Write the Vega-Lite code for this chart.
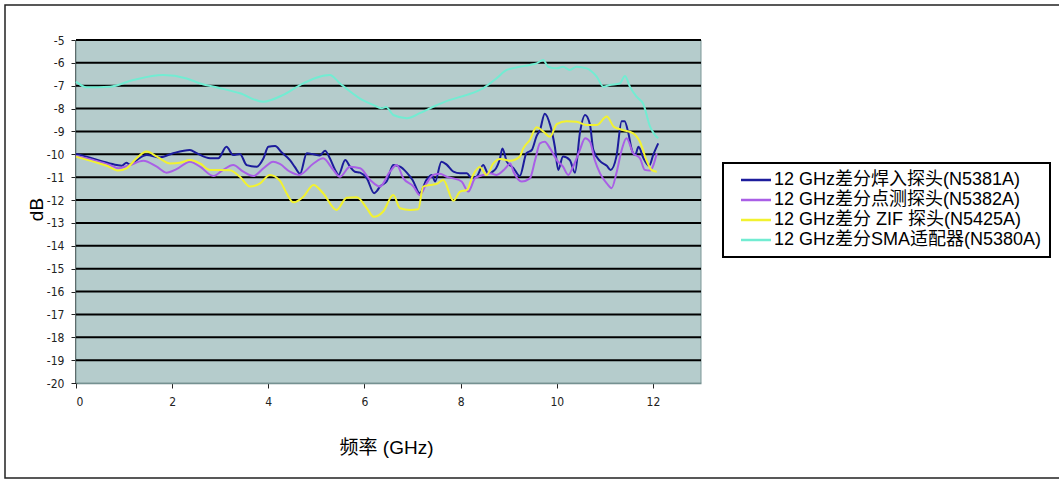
{
  "$schema": "https://vega.github.io/schema/vega-lite/v6.json",
  "width": 1058,
  "height": 473,
  "autosize": {"type": "none"},
  "padding": {"left": 5, "top": 5, "right": 0, "bottom": 2},
  "background": "white",
  "config": {
    "view": {"stroke": "#222222", "strokeWidth": 1.5},
    "axis": {
      "labelFont": "DejaVu Sans Condensed, Liberation Sans Narrow, sans-serif",
      "labelFontSize": 12,
      "labelColor": "#222222",
      "labelOverlap": false,
      "labelExpr": "datum.value + ''",
      "titleFont": "Liberation Sans, Noto Sans CJK SC, sans-serif",
      "titleFontWeight": "normal",
      "titleColor": "#000000",
      "titleFontSize": 19,
      "tickColor": "#222222",
      "tickSize": 5,
      "grid": false
    },
    "axisX": {"offset": -95, "domainColor": "#6f8a8a", "domainWidth": 1.5,
      "labelPadding": 8, "titleX": 381, "titleY": 64, "titleBaseline": "middle"},
    "axisY": {"offset": -71, "domainColor": "#000000", "domainWidth": 2.5, "labelPadding": 7,
      "titleX": -40, "titleY": 204, "titleBaseline": "middle"}
  },
  "datasets": {
    "grid": [
      {"g": -5}, {"g": -6}, {"g": -7}, {"g": -8}, {"g": -9}, {"g": -10}, {"g": -11}, {"g": -12},
      {"g": -13}, {"g": -14}, {"g": -15}, {"g": -16}, {"g": -17}, {"g": -18}, {"g": -19}
    ],
    "curves": [
      {"s": "12 GHz差分焊入探头(N5381A)", "f": 0, "v": -9.98},
      {"s": "12 GHz差分焊入探头(N5381A)", "f": 0.22, "v": -10.1},
      {"s": "12 GHz差分焊入探头(N5381A)", "f": 0.57, "v": -10.32},
      {"s": "12 GHz差分焊入探头(N5381A)", "f": 0.85, "v": -10.47},
      {"s": "12 GHz差分焊入探头(N5381A)", "f": 0.95, "v": -10.5},
      {"s": "12 GHz差分焊入探头(N5381A)", "f": 1.05, "v": -10.37},
      {"s": "12 GHz差分焊入探头(N5381A)", "f": 1.12, "v": -10.45},
      {"s": "12 GHz差分焊入探头(N5381A)", "f": 1.26, "v": -10.25},
      {"s": "12 GHz差分焊入探头(N5381A)", "f": 1.47, "v": -10.03},
      {"s": "12 GHz差分焊入探头(N5381A)", "f": 1.75, "v": -10.13},
      {"s": "12 GHz差分焊入探头(N5381A)", "f": 2.02, "v": -9.95},
      {"s": "12 GHz差分焊入探头(N5381A)", "f": 2.37, "v": -9.81},
      {"s": "12 GHz差分焊入探头(N5381A)", "f": 2.51, "v": -9.95},
      {"s": "12 GHz差分焊入探头(N5381A)", "f": 2.79, "v": -10.17},
      {"s": "12 GHz差分焊入探头(N5381A)", "f": 2.96, "v": -10.17},
      {"s": "12 GHz差分焊入探头(N5381A)", "f": 3.13, "v": -9.67},
      {"s": "12 GHz差分焊入探头(N5381A)", "f": 3.27, "v": -10.03},
      {"s": "12 GHz差分焊入探头(N5381A)", "f": 3.41, "v": -9.98},
      {"s": "12 GHz差分焊入探头(N5381A)", "f": 3.55, "v": -10.47},
      {"s": "12 GHz差分焊入探头(N5381A)", "f": 3.76, "v": -10.54},
      {"s": "12 GHz差分焊入探头(N5381A)", "f": 3.9, "v": -10.17},
      {"s": "12 GHz差分焊入探头(N5381A)", "f": 4.0, "v": -9.67},
      {"s": "12 GHz差分焊入探头(N5381A)", "f": 4.14, "v": -9.64},
      {"s": "12 GHz差分焊入探头(N5381A)", "f": 4.28, "v": -9.92},
      {"s": "12 GHz差分焊入探头(N5381A)", "f": 4.45, "v": -10.25},
      {"s": "12 GHz差分焊入探头(N5381A)", "f": 4.55, "v": -10.55},
      {"s": "12 GHz差分焊入探头(N5381A)", "f": 4.66, "v": -10.85},
      {"s": "12 GHz差分焊入探头(N5381A)", "f": 4.8, "v": -9.95},
      {"s": "12 GHz差分焊入探头(N5381A)", "f": 4.94, "v": -10.0},
      {"s": "12 GHz差分焊入探头(N5381A)", "f": 5.07, "v": -10.05},
      {"s": "12 GHz差分焊入探头(N5381A)", "f": 5.18, "v": -9.84},
      {"s": "12 GHz差分焊入探头(N5381A)", "f": 5.28, "v": -10.17},
      {"s": "12 GHz差分焊入探头(N5381A)", "f": 5.39, "v": -10.68},
      {"s": "12 GHz差分焊入探头(N5381A)", "f": 5.46, "v": -10.9},
      {"s": "12 GHz差分焊入探头(N5381A)", "f": 5.6, "v": -10.25},
      {"s": "12 GHz差分焊入探头(N5381A)", "f": 5.7, "v": -10.54},
      {"s": "12 GHz差分焊入探头(N5381A)", "f": 5.8, "v": -10.76},
      {"s": "12 GHz差分焊入探头(N5381A)", "f": 5.91, "v": -10.8},
      {"s": "12 GHz差分焊入探头(N5381A)", "f": 6.05, "v": -11.05},
      {"s": "12 GHz差分焊入探头(N5381A)", "f": 6.2, "v": -11.7},
      {"s": "12 GHz差分焊入探头(N5381A)", "f": 6.26, "v": -11.6},
      {"s": "12 GHz差分焊入探头(N5381A)", "f": 6.32, "v": -11.41},
      {"s": "12 GHz差分焊入探头(N5381A)", "f": 6.46, "v": -11.19},
      {"s": "12 GHz差分焊入探头(N5381A)", "f": 6.6, "v": -10.47},
      {"s": "12 GHz差分焊入探头(N5381A)", "f": 6.74, "v": -10.54},
      {"s": "12 GHz差分焊入探头(N5381A)", "f": 6.88, "v": -10.8},
      {"s": "12 GHz差分焊入探头(N5381A)", "f": 7.0, "v": -11.12},
      {"s": "12 GHz差分焊入探头(N5381A)", "f": 7.15, "v": -11.7},
      {"s": "12 GHz差分焊入探头(N5381A)", "f": 7.29, "v": -11.12},
      {"s": "12 GHz差分焊入探头(N5381A)", "f": 7.4, "v": -10.9},
      {"s": "12 GHz差分焊入探头(N5381A)", "f": 7.47, "v": -11.19},
      {"s": "12 GHz差分焊入探头(N5381A)", "f": 7.6, "v": -10.32},
      {"s": "12 GHz差分焊入探头(N5381A)", "f": 7.71, "v": -10.45},
      {"s": "12 GHz差分焊入探头(N5381A)", "f": 7.85, "v": -10.76},
      {"s": "12 GHz差分焊入探头(N5381A)", "f": 7.99, "v": -10.83},
      {"s": "12 GHz差分焊入探头(N5381A)", "f": 8.13, "v": -10.83},
      {"s": "12 GHz差分焊入探头(N5381A)", "f": 8.23, "v": -11.05},
      {"s": "12 GHz差分焊入探头(N5381A)", "f": 8.33, "v": -10.98},
      {"s": "12 GHz差分焊入探头(N5381A)", "f": 8.47, "v": -10.47},
      {"s": "12 GHz差分焊入探头(N5381A)", "f": 8.57, "v": -10.83},
      {"s": "12 GHz差分焊入探头(N5381A)", "f": 8.71, "v": -10.68},
      {"s": "12 GHz差分焊入探头(N5381A)", "f": 8.82, "v": -10.17},
      {"s": "12 GHz差分焊入探头(N5381A)", "f": 8.87, "v": -9.74},
      {"s": "12 GHz差分焊入探头(N5381A)", "f": 8.96, "v": -10.32},
      {"s": "12 GHz差分焊入探头(N5381A)", "f": 9.1, "v": -10.6},
      {"s": "12 GHz差分焊入探头(N5381A)", "f": 9.23, "v": -10.95},
      {"s": "12 GHz差分焊入探头(N5381A)", "f": 9.37, "v": -9.95},
      {"s": "12 GHz差分焊入探头(N5381A)", "f": 9.48, "v": -9.81},
      {"s": "12 GHz差分焊入探头(N5381A)", "f": 9.58, "v": -9.2},
      {"s": "12 GHz差分焊入探头(N5381A)", "f": 9.65, "v": -8.94},
      {"s": "12 GHz差分焊入探头(N5381A)", "f": 9.75, "v": -8.22},
      {"s": "12 GHz差分焊入探头(N5381A)", "f": 9.86, "v": -8.7},
      {"s": "12 GHz差分焊入探头(N5381A)", "f": 9.96, "v": -9.67},
      {"s": "12 GHz差分焊入探头(N5381A)", "f": 10.03, "v": -10.68},
      {"s": "12 GHz差分焊入探头(N5381A)", "f": 10.13, "v": -10.1},
      {"s": "12 GHz差分焊入探头(N5381A)", "f": 10.27, "v": -10.25},
      {"s": "12 GHz差分焊入探头(N5381A)", "f": 10.38, "v": -10.8},
      {"s": "12 GHz差分焊入探头(N5381A)", "f": 10.48, "v": -9.08},
      {"s": "12 GHz差分焊入探头(N5381A)", "f": 10.59, "v": -8.28},
      {"s": "12 GHz差分焊入探头(N5381A)", "f": 10.69, "v": -8.7},
      {"s": "12 GHz差分焊入探头(N5381A)", "f": 10.76, "v": -9.8},
      {"s": "12 GHz差分焊入探头(N5381A)", "f": 10.9, "v": -10.3},
      {"s": "12 GHz差分焊入探头(N5381A)", "f": 11.04, "v": -10.5},
      {"s": "12 GHz差分焊入探头(N5381A)", "f": 11.12, "v": -10.68},
      {"s": "12 GHz差分焊入探头(N5381A)", "f": 11.24, "v": -10.1},
      {"s": "12 GHz差分焊入探头(N5381A)", "f": 11.35, "v": -8.55},
      {"s": "12 GHz差分焊入探头(N5381A)", "f": 11.41, "v": -8.55},
      {"s": "12 GHz差分焊入探头(N5381A)", "f": 11.49, "v": -9.08},
      {"s": "12 GHz差分焊入探头(N5381A)", "f": 11.56, "v": -9.8},
      {"s": "12 GHz差分焊入探头(N5381A)", "f": 11.63, "v": -10.03},
      {"s": "12 GHz差分焊入探头(N5381A)", "f": 11.7, "v": -9.67},
      {"s": "12 GHz差分焊入探头(N5381A)", "f": 11.8, "v": -10.15},
      {"s": "12 GHz差分焊入探头(N5381A)", "f": 11.92, "v": -10.5},
      {"s": "12 GHz差分焊入探头(N5381A)", "f": 12.01, "v": -10.0},
      {"s": "12 GHz差分焊入探头(N5381A)", "f": 12.11, "v": -9.52},

      {"s": "12 GHz差分点测探头(N5382A)", "f": 0, "v": -10.07},
      {"s": "12 GHz差分点测探头(N5382A)", "f": 0.36, "v": -10.25},
      {"s": "12 GHz差分点测探头(N5382A)", "f": 0.71, "v": -10.47},
      {"s": "12 GHz差分点测探头(N5382A)", "f": 0.88, "v": -10.61},
      {"s": "12 GHz差分点测探头(N5382A)", "f": 1.12, "v": -10.47},
      {"s": "12 GHz差分点测探头(N5382A)", "f": 1.4, "v": -10.28},
      {"s": "12 GHz差分点测探头(N5382A)", "f": 1.68, "v": -10.54},
      {"s": "12 GHz差分点测探头(N5382A)", "f": 1.88, "v": -10.8},
      {"s": "12 GHz差分点测探头(N5382A)", "f": 2.09, "v": -10.65},
      {"s": "12 GHz差分点测探头(N5382A)", "f": 2.37, "v": -10.32},
      {"s": "12 GHz差分点测探头(N5382A)", "f": 2.58, "v": -10.54},
      {"s": "12 GHz差分点测探头(N5382A)", "f": 2.86, "v": -10.95},
      {"s": "12 GHz差分点测探头(N5382A)", "f": 3.06, "v": -10.68},
      {"s": "12 GHz差分点测探头(N5382A)", "f": 3.27, "v": -10.47},
      {"s": "12 GHz差分点测探头(N5382A)", "f": 3.48, "v": -10.76},
      {"s": "12 GHz差分点测探头(N5382A)", "f": 3.69, "v": -10.95},
      {"s": "12 GHz差分点测探头(N5382A)", "f": 3.9, "v": -10.61},
      {"s": "12 GHz差分点测探头(N5382A)", "f": 4.1, "v": -10.32},
      {"s": "12 GHz差分点测探头(N5382A)", "f": 4.24, "v": -10.42},
      {"s": "12 GHz差分点测探头(N5382A)", "f": 4.45, "v": -10.76},
      {"s": "12 GHz差分点测探头(N5382A)", "f": 4.64, "v": -10.9},
      {"s": "12 GHz差分点测探头(N5382A)", "f": 4.94, "v": -10.4},
      {"s": "12 GHz差分点测探头(N5382A)", "f": 5.14, "v": -10.17},
      {"s": "12 GHz差分点测探头(N5382A)", "f": 5.35, "v": -10.68},
      {"s": "12 GHz差分点测探头(N5382A)", "f": 5.49, "v": -10.98},
      {"s": "12 GHz差分点测探头(N5382A)", "f": 5.7, "v": -10.54},
      {"s": "12 GHz差分点测探头(N5382A)", "f": 5.91, "v": -10.61},
      {"s": "12 GHz差分点测探头(N5382A)", "f": 6.12, "v": -11.12},
      {"s": "12 GHz差分点测探头(N5382A)", "f": 6.32, "v": -11.41},
      {"s": "12 GHz差分点测探头(N5382A)", "f": 6.53, "v": -10.76},
      {"s": "12 GHz差分点测探头(N5382A)", "f": 6.67, "v": -10.47},
      {"s": "12 GHz差分点测探头(N5382A)", "f": 6.81, "v": -11.05},
      {"s": "12 GHz差分点测探头(N5382A)", "f": 7.02, "v": -11.41},
      {"s": "12 GHz差分点测探头(N5382A)", "f": 7.15, "v": -11.78},
      {"s": "12 GHz差分点测探头(N5382A)", "f": 7.29, "v": -11.27},
      {"s": "12 GHz差分点测探头(N5382A)", "f": 7.43, "v": -10.9},
      {"s": "12 GHz差分点测探头(N5382A)", "f": 7.57, "v": -10.85},
      {"s": "12 GHz差分点测探头(N5382A)", "f": 7.71, "v": -10.98},
      {"s": "12 GHz差分点测探头(N5382A)", "f": 7.85, "v": -11.05},
      {"s": "12 GHz差分点测探头(N5382A)", "f": 8.02, "v": -11.19},
      {"s": "12 GHz差分点测探头(N5382A)", "f": 8.16, "v": -11.63},
      {"s": "12 GHz差分点测探头(N5382A)", "f": 8.3, "v": -11.05},
      {"s": "12 GHz差分点测探头(N5382A)", "f": 8.47, "v": -10.9},
      {"s": "12 GHz差分点测探头(N5382A)", "f": 8.61, "v": -10.83},
      {"s": "12 GHz差分点测探头(N5382A)", "f": 8.75, "v": -10.9},
      {"s": "12 GHz差分点测探头(N5382A)", "f": 8.89, "v": -10.7},
      {"s": "12 GHz差分点测探头(N5382A)", "f": 8.96, "v": -10.54},
      {"s": "12 GHz差分点测探头(N5382A)", "f": 9.03, "v": -10.4},
      {"s": "12 GHz差分点测探头(N5382A)", "f": 9.1, "v": -10.76},
      {"s": "12 GHz差分点测探头(N5382A)", "f": 9.27, "v": -11.19},
      {"s": "12 GHz差分点测探头(N5382A)", "f": 9.44, "v": -11.05},
      {"s": "12 GHz差分点测探头(N5382A)", "f": 9.55, "v": -10.25},
      {"s": "12 GHz差分点测探头(N5382A)", "f": 9.65, "v": -9.52},
      {"s": "12 GHz差分点测探头(N5382A)", "f": 9.75, "v": -9.45},
      {"s": "12 GHz差分点测探头(N5382A)", "f": 9.86, "v": -9.74},
      {"s": "12 GHz差分点测探头(N5382A)", "f": 10.0, "v": -10.25},
      {"s": "12 GHz差分点测探头(N5382A)", "f": 10.13, "v": -10.54},
      {"s": "12 GHz差分点测探头(N5382A)", "f": 10.24, "v": -10.9},
      {"s": "12 GHz差分点测探头(N5382A)", "f": 10.34, "v": -10.54},
      {"s": "12 GHz差分点测探头(N5382A)", "f": 10.48, "v": -9.81},
      {"s": "12 GHz差分点测探头(N5382A)", "f": 10.59, "v": -9.3},
      {"s": "12 GHz差分点测探头(N5382A)", "f": 10.69, "v": -9.45},
      {"s": "12 GHz差分点测探头(N5382A)", "f": 10.79, "v": -10.25},
      {"s": "12 GHz差分点测探头(N5382A)", "f": 10.9, "v": -10.83},
      {"s": "12 GHz差分点测探头(N5382A)", "f": 11.04, "v": -11.27},
      {"s": "12 GHz差分点测探头(N5382A)", "f": 11.14, "v": -11.48},
      {"s": "12 GHz差分点测探头(N5382A)", "f": 11.24, "v": -10.83},
      {"s": "12 GHz差分点测探头(N5382A)", "f": 11.35, "v": -9.81},
      {"s": "12 GHz差分点测探头(N5382A)", "f": 11.45, "v": -9.3},
      {"s": "12 GHz差分点测探头(N5382A)", "f": 11.59, "v": -9.95},
      {"s": "12 GHz差分点测探头(N5382A)", "f": 11.73, "v": -10.17},
      {"s": "12 GHz差分点测探头(N5382A)", "f": 11.83, "v": -10.68},
      {"s": "12 GHz差分点测探头(N5382A)", "f": 11.94, "v": -10.71},
      {"s": "12 GHz差分点测探头(N5382A)", "f": 12.01, "v": -10.47},
      {"s": "12 GHz差分点测探头(N5382A)", "f": 12.08, "v": -9.95},

      {"s": "12 GHz差分 ZIF 探头(N5425A)", "f": 0, "v": -10.1},
      {"s": "12 GHz差分 ZIF 探头(N5425A)", "f": 0.36, "v": -10.32},
      {"s": "12 GHz差分 ZIF 探头(N5425A)", "f": 0.64, "v": -10.5},
      {"s": "12 GHz差分 ZIF 探头(N5425A)", "f": 0.88, "v": -10.71},
      {"s": "12 GHz差分 ZIF 探头(N5425A)", "f": 1.05, "v": -10.61},
      {"s": "12 GHz差分 ZIF 探头(N5425A)", "f": 1.26, "v": -10.17},
      {"s": "12 GHz差分 ZIF 探头(N5425A)", "f": 1.47, "v": -9.88},
      {"s": "12 GHz差分 ZIF 探头(N5425A)", "f": 1.68, "v": -10.1},
      {"s": "12 GHz差分 ZIF 探头(N5425A)", "f": 1.96, "v": -10.4},
      {"s": "12 GHz差分 ZIF 探头(N5425A)", "f": 2.16, "v": -10.37},
      {"s": "12 GHz差分 ZIF 探头(N5425A)", "f": 2.37, "v": -10.25},
      {"s": "12 GHz差分 ZIF 探头(N5425A)", "f": 2.58, "v": -10.4},
      {"s": "12 GHz差分 ZIF 探头(N5425A)", "f": 2.79, "v": -10.68},
      {"s": "12 GHz差分 ZIF 探头(N5425A)", "f": 2.99, "v": -10.68},
      {"s": "12 GHz差分 ZIF 探头(N5425A)", "f": 3.2, "v": -10.7},
      {"s": "12 GHz差分 ZIF 探头(N5425A)", "f": 3.41, "v": -10.98},
      {"s": "12 GHz差分 ZIF 探头(N5425A)", "f": 3.62, "v": -11.41},
      {"s": "12 GHz差分 ZIF 探头(N5425A)", "f": 3.83, "v": -11.27},
      {"s": "12 GHz差分 ZIF 探头(N5425A)", "f": 4.03, "v": -10.9},
      {"s": "12 GHz差分 ZIF 探头(N5425A)", "f": 4.24, "v": -11.15},
      {"s": "12 GHz差分 ZIF 探头(N5425A)", "f": 4.38, "v": -11.7},
      {"s": "12 GHz差分 ZIF 探头(N5425A)", "f": 4.52, "v": -12.1},
      {"s": "12 GHz差分 ZIF 探头(N5425A)", "f": 4.73, "v": -11.85},
      {"s": "12 GHz差分 ZIF 探头(N5425A)", "f": 4.94, "v": -11.34},
      {"s": "12 GHz差分 ZIF 探头(N5425A)", "f": 5.14, "v": -11.7},
      {"s": "12 GHz差分 ZIF 探头(N5425A)", "f": 5.42, "v": -12.43},
      {"s": "12 GHz差分 ZIF 探头(N5425A)", "f": 5.63, "v": -11.9},
      {"s": "12 GHz差分 ZIF 探头(N5425A)", "f": 5.84, "v": -11.88},
      {"s": "12 GHz差分 ZIF 探头(N5425A)", "f": 6.05, "v": -12.36},
      {"s": "12 GHz差分 ZIF 探头(N5425A)", "f": 6.19, "v": -12.73},
      {"s": "12 GHz差分 ZIF 探头(N5425A)", "f": 6.39, "v": -12.5},
      {"s": "12 GHz差分 ZIF 探头(N5425A)", "f": 6.6, "v": -11.78},
      {"s": "12 GHz差分 ZIF 探头(N5425A)", "f": 6.74, "v": -12.36},
      {"s": "12 GHz差分 ZIF 探头(N5425A)", "f": 6.95, "v": -12.43},
      {"s": "12 GHz差分 ZIF 探头(N5425A)", "f": 7.12, "v": -12.4},
      {"s": "12 GHz差分 ZIF 探头(N5425A)", "f": 7.22, "v": -11.41},
      {"s": "12 GHz差分 ZIF 探头(N5425A)", "f": 7.36, "v": -11.34},
      {"s": "12 GHz差分 ZIF 探头(N5425A)", "f": 7.5, "v": -11.3},
      {"s": "12 GHz差分 ZIF 探头(N5425A)", "f": 7.64, "v": -11.12},
      {"s": "12 GHz差分 ZIF 探头(N5425A)", "f": 7.85, "v": -12.03},
      {"s": "12 GHz差分 ZIF 探头(N5425A)", "f": 7.99, "v": -11.63},
      {"s": "12 GHz差分 ZIF 探头(N5425A)", "f": 8.13, "v": -11.56},
      {"s": "12 GHz差分 ZIF 探头(N5425A)", "f": 8.26, "v": -10.9},
      {"s": "12 GHz差分 ZIF 探头(N5425A)", "f": 8.4, "v": -10.55},
      {"s": "12 GHz差分 ZIF 探头(N5425A)", "f": 8.54, "v": -10.9},
      {"s": "12 GHz差分 ZIF 探头(N5425A)", "f": 8.68, "v": -10.4},
      {"s": "12 GHz差分 ZIF 探头(N5425A)", "f": 8.82, "v": -10.2},
      {"s": "12 GHz差分 ZIF 探头(N5425A)", "f": 9.03, "v": -10.28},
      {"s": "12 GHz差分 ZIF 探头(N5425A)", "f": 9.23, "v": -10.1},
      {"s": "12 GHz差分 ZIF 探头(N5425A)", "f": 9.3, "v": -9.75},
      {"s": "12 GHz差分 ZIF 探头(N5425A)", "f": 9.44, "v": -9.37},
      {"s": "12 GHz差分 ZIF 探头(N5425A)", "f": 9.58, "v": -8.82},
      {"s": "12 GHz差分 ZIF 探头(N5425A)", "f": 9.72, "v": -9.0},
      {"s": "12 GHz差分 ZIF 探头(N5425A)", "f": 9.86, "v": -9.23},
      {"s": "12 GHz差分 ZIF 探头(N5425A)", "f": 10.0, "v": -8.68},
      {"s": "12 GHz差分 ZIF 探头(N5425A)", "f": 10.2, "v": -8.55},
      {"s": "12 GHz差分 ZIF 探头(N5425A)", "f": 10.41, "v": -8.57},
      {"s": "12 GHz差分 ZIF 探头(N5425A)", "f": 10.62, "v": -8.72},
      {"s": "12 GHz差分 ZIF 探头(N5425A)", "f": 10.83, "v": -8.72},
      {"s": "12 GHz差分 ZIF 探头(N5425A)", "f": 11.04, "v": -8.35},
      {"s": "12 GHz差分 ZIF 探头(N5425A)", "f": 11.19, "v": -8.8},
      {"s": "12 GHz差分 ZIF 探头(N5425A)", "f": 11.38, "v": -8.94},
      {"s": "12 GHz差分 ZIF 探头(N5425A)", "f": 11.59, "v": -9.08},
      {"s": "12 GHz差分 ZIF 探头(N5425A)", "f": 11.73, "v": -9.45},
      {"s": "12 GHz差分 ZIF 探头(N5425A)", "f": 11.87, "v": -10.28},
      {"s": "12 GHz差分 ZIF 探头(N5425A)", "f": 11.97, "v": -10.68},
      {"s": "12 GHz差分 ZIF 探头(N5425A)", "f": 12.08, "v": -10.76},

      {"s": "12 GHz差分SMA适配器(N5380A)", "f": 0, "v": -6.82},
      {"s": "12 GHz差分SMA适配器(N5380A)", "f": 0.22, "v": -7.07},
      {"s": "12 GHz差分SMA适配器(N5380A)", "f": 0.71, "v": -7.04},
      {"s": "12 GHz差分SMA适配器(N5380A)", "f": 1.19, "v": -6.75},
      {"s": "12 GHz差分SMA适配器(N5380A)", "f": 1.81, "v": -6.53},
      {"s": "12 GHz差分SMA适配器(N5380A)", "f": 2.3, "v": -6.68},
      {"s": "12 GHz差分SMA适配器(N5380A)", "f": 2.58, "v": -6.9},
      {"s": "12 GHz差分SMA适配器(N5380A)", "f": 2.92, "v": -7.07},
      {"s": "12 GHz差分SMA适配器(N5380A)", "f": 3.41, "v": -7.33},
      {"s": "12 GHz差分SMA适配器(N5380A)", "f": 3.89, "v": -7.7},
      {"s": "12 GHz差分SMA适配器(N5380A)", "f": 4.31, "v": -7.4},
      {"s": "12 GHz差分SMA适配器(N5380A)", "f": 4.66, "v": -6.97},
      {"s": "12 GHz差分SMA适配器(N5380A)", "f": 5.28, "v": -6.53},
      {"s": "12 GHz差分SMA适配器(N5380A)", "f": 5.49, "v": -6.9},
      {"s": "12 GHz差分SMA适配器(N5380A)", "f": 5.9, "v": -7.55},
      {"s": "12 GHz差分SMA适配器(N5380A)", "f": 6.18, "v": -7.84},
      {"s": "12 GHz差分SMA适配器(N5380A)", "f": 6.36, "v": -7.99},
      {"s": "12 GHz差分SMA适配器(N5380A)", "f": 6.45, "v": -7.93},
      {"s": "12 GHz差分SMA适配器(N5380A)", "f": 6.6, "v": -8.28},
      {"s": "12 GHz差分SMA适配器(N5380A)", "f": 6.88, "v": -8.42},
      {"s": "12 GHz差分SMA适配器(N5380A)", "f": 7.15, "v": -8.2},
      {"s": "12 GHz差分SMA适配器(N5380A)", "f": 7.43, "v": -7.92},
      {"s": "12 GHz差分SMA适配器(N5380A)", "f": 7.78, "v": -7.62},
      {"s": "12 GHz差分SMA适配器(N5380A)", "f": 8.13, "v": -7.4},
      {"s": "12 GHz差分SMA适配器(N5380A)", "f": 8.47, "v": -7.11},
      {"s": "12 GHz差分SMA适配器(N5380A)", "f": 8.75, "v": -6.67},
      {"s": "12 GHz差分SMA适配器(N5380A)", "f": 8.96, "v": -6.31},
      {"s": "12 GHz差分SMA适配器(N5380A)", "f": 9.23, "v": -6.17},
      {"s": "12 GHz差分SMA适配器(N5380A)", "f": 9.44, "v": -6.09},
      {"s": "12 GHz差分SMA适配器(N5380A)", "f": 9.58, "v": -6.02},
      {"s": "12 GHz差分SMA适配器(N5380A)", "f": 9.72, "v": -5.87},
      {"s": "12 GHz差分SMA适配器(N5380A)", "f": 9.82, "v": -6.17},
      {"s": "12 GHz差分SMA适配器(N5380A)", "f": 10.0, "v": -6.24},
      {"s": "12 GHz差分SMA适配器(N5380A)", "f": 10.13, "v": -6.17},
      {"s": "12 GHz差分SMA适配器(N5380A)", "f": 10.27, "v": -6.31},
      {"s": "12 GHz差分SMA适配器(N5380A)", "f": 10.41, "v": -6.17},
      {"s": "12 GHz差分SMA适配器(N5380A)", "f": 10.62, "v": -6.24},
      {"s": "12 GHz差分SMA适配器(N5380A)", "f": 10.83, "v": -6.6},
      {"s": "12 GHz差分SMA适配器(N5380A)", "f": 10.97, "v": -7.04},
      {"s": "12 GHz差分SMA适配器(N5380A)", "f": 11.1, "v": -6.97},
      {"s": "12 GHz差分SMA适配器(N5380A)", "f": 11.31, "v": -6.9},
      {"s": "12 GHz差分SMA适配器(N5380A)", "f": 11.42, "v": -6.57},
      {"s": "12 GHz差分SMA适配器(N5380A)", "f": 11.52, "v": -7.04},
      {"s": "12 GHz差分SMA适配器(N5380A)", "f": 11.66, "v": -7.48},
      {"s": "12 GHz差分SMA适配器(N5380A)", "f": 11.8, "v": -7.8},
      {"s": "12 GHz差分SMA适配器(N5380A)", "f": 11.94, "v": -8.79},
      {"s": "12 GHz差分SMA适配器(N5380A)", "f": 12.04, "v": -9.15},
      {"s": "12 GHz差分SMA适配器(N5380A)", "f": 12.11, "v": -9.3}
    ]
  },
  "layer": [
    {
      "data": {"values": [{"bg": 1}]},
      "mark": {"type": "rect", "fill": "#b5cccc", "stroke": "#7d9797", "strokeWidth": 1},
      "encoding": {
        "x": {"datum": 0, "type": "quantitative", "title": "频率 (GHz)",
          "scale": {"domain": [0, 13], "range": [71, 696], "nice": false, "zero": false},
          "axis": {"values": [0, 2, 4, 6, 8, 10, 12]}},
        "x2": {"datum": 13},
        "y": {"datum": -20, "type": "quantitative", "title": "dB",
          "scale": {"domain": [-20, -5], "range": [378, 35], "nice": false, "zero": false},
          "axis": {"values": [-5, -6, -7, -8, -9, -10, -11, -12, -13, -14, -15, -16, -17, -18, -19, -20]}},
        "y2": {"datum": -5}
      }
    },
    {
      "data": {"name": "grid"},
      "mark": {"type": "rule", "color": "#000000", "strokeWidth": 2},
      "encoding": {
        "x": {"datum": 0, "type": "quantitative", "title": "频率 (GHz)",
          "axis": {"values": [0, 2, 4, 6, 8, 10, 12]}},
        "x2": {"datum": 13},
        "y": {"field": "g", "type": "quantitative", "title": "dB",
          "axis": {"values": [-5, -6, -7, -8, -9, -10, -11, -12, -13, -14, -15, -16, -17, -18, -19, -20]}}
      }
    },
    {
      "data": {"name": "curves"},
      "mark": {"type": "line", "strokeWidth": 2, "interpolate": "monotone"},
      "encoding": {
        "x": {"field": "f", "type": "quantitative", "title": "频率 (GHz)",
          "axis": {"values": [0, 2, 4, 6, 8, 10, 12]}},
        "y": {"field": "v", "type": "quantitative", "title": "dB",
          "axis": {"values": [-5, -6, -7, -8, -9, -10, -11, -12, -13, -14, -15, -16, -17, -18, -19, -20]}},
        "color": {
          "field": "s", "type": "nominal",
          "scale": {
            "domain": ["12 GHz差分焊入探头(N5381A)", "12 GHz差分点测探头(N5382A)", "12 GHz差分 ZIF 探头(N5425A)", "12 GHz差分SMA适配器(N5380A)"],
            "range": ["#1c1c9c", "#a95fe6", "#f2f230", "#72ecd2"]
          },
          "legend": {
            "title": null, "orient": "none", "legendX": 718, "legendY": 158,
            "strokeColor": "#000000", "padding": 8,
            "symbolType": "M-2,0H2", "symbolSize": 225, "symbolStrokeWidth": 2.5, "symbolOffset": 16,
            "labelFont": "Liberation Sans, Noto Sans CJK SC, sans-serif", "labelFontSize": 18, "labelColor": "#000000",
            "labelOffset": 9, "labelLimit": 500, "rowPadding": 2,
            "encode": {"legend": {"update": {"strokeWidth": {"value": 2}}}}
          }
        }
      }
    }
  ]
}
